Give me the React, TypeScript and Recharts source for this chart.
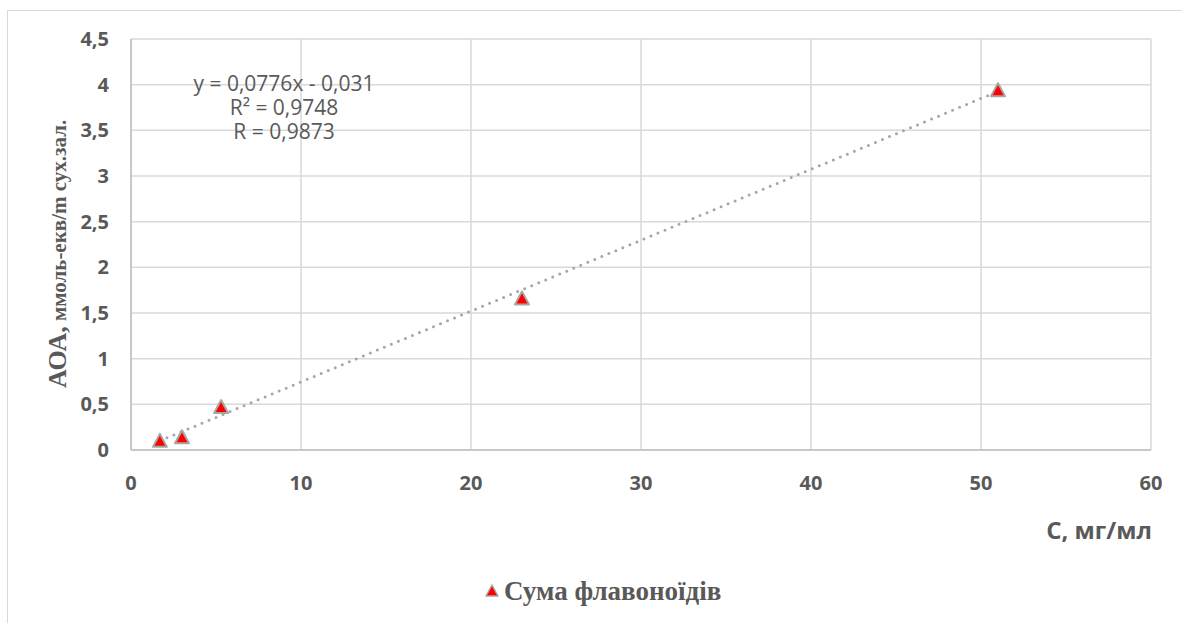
import React from "react";
import { ScatterChart, Scatter, XAxis, YAxis, CartesianGrid } from "recharts";

const concentrations = [1.7, 3.0, 5.3, 23.0, 51.0];
const aoaValues = [0.1, 0.14, 0.47, 1.66, 3.94];
const trendX = [1.7, 51.0];
const trendY = [0.101, 3.927];
const xTicks = [0, 10, 20, 30, 40, 50, 60];
const yTicks = [0, 0.5, 1, 1.5, 2, 2.5, 3, 3.5, 4, 4.5];
const equationLines = ["y = 0,0776x - 0,031", "R² = 0,9748", "R = 0,9873"];
const seriesName = "Сума флавоноїдів";
const xLabel = "С, мг/мл";
const yLabelMain = "АОА,";
const yLabelRest = " ммоль-екв/m сух.зал.";

const points = concentrations.map((x, i) => ({ x, y: aoaValues[i] }));
const trend = trendX.map((x, i) => ({ x, y: trendY[i] }));

const GRAY_TEXT = "#595959";
const fmt = (v: number) => String(v).replace(".", ",");

const Tri = (props: any) => {
  const { cx, cy } = props;
  if (cx == null || cy == null) return null;
  return (
    <path
      d={`M${cx},${cy - 7} L${cx + 7},${cy + 6} L${cx - 7},${cy + 6} Z`}
      fill="#ff0000"
      stroke="#a6a6a6"
      strokeWidth={2}
      strokeLinejoin="round"
    />
  );
};

const tickStyle = {
  fill: GRAY_TEXT,
  fontSize: 20,
  fontWeight: 700,
  fontFamily: "'Open Sans', sans-serif",
};

export default function App() {
  return (
    <div
      style={{
        position: "absolute",
        left: 7,
        top: 10,
        width: 1174,
        height: 612,
        borderTop: "1px solid #d9d9d9",
        borderLeft: "1px solid #d9d9d9",
        background: "#fff",
      }}
    >
      <ScatterChart
        width={1174}
        height={612}
        margin={{ top: 28, right: 31, left: 0, bottom: 143 }}
      >
        <CartesianGrid stroke="#d9d9d9" strokeWidth={1.5} />
        <XAxis
          type="number"
          dataKey="x"
          domain={[0, 60]}
          ticks={xTicks}
          height={30}
          axisLine={{ stroke: "#bfbfbf", strokeWidth: 1.5 }}
          tickLine={false}
          tickSize={0}
          tickMargin={26}
          tick={tickStyle}
          label={() => (
            <text
              x={1144}
              y={528}
              textAnchor="end"
              fill={GRAY_TEXT}
              fontSize={24}
              fontWeight={700}
              fontFamily="'Open Sans', sans-serif"
            >
              {xLabel}
            </text>
          )}
        />
        <YAxis
          type="number"
          dataKey="y"
          domain={[0, 4.5]}
          ticks={yTicks}
          width={123}
          tickFormatter={fmt}
          axisLine={{ stroke: "#bfbfbf", strokeWidth: 1.5 }}
          tickLine={false}
          tickSize={0}
          tickMargin={22}
          tick={tickStyle}
          label={() => (
            <text
              transform="translate(58,377) rotate(-90)"
              textAnchor="start"
              fill={GRAY_TEXT}
              fontWeight={700}
              fontFamily="'Liberation Serif', 'Times New Roman', serif"
            >
              <tspan fontSize={26}>{yLabelMain}</tspan>
              <tspan fontSize={21}>{yLabelRest}</tspan>
            </text>
          )}
        />
        <Scatter
          data={trend}
          isAnimationActive={false}
          shape={() => null}
          line={{
            stroke: "#a6a6a6",
            strokeWidth: 3,
            strokeDasharray: "0 7.6",
            strokeLinecap: "round",
          }}
        />
        <Scatter
          name={seriesName}
          data={points}
          isAnimationActive={false}
          shape={Tri}
        />
      </ScatterChart>

      <div
        style={{
          position: "absolute",
          left: 166,
          top: 60,
          width: 220,
          textAlign: "center",
          color: GRAY_TEXT,
          fontFamily: "'Open Sans', sans-serif",
          fontSize: 21,
          lineHeight: "24px",
        }}
      >
        {equationLines.map((l) => (
          <div key={l}>{l}</div>
        ))}
      </div>

      <div
        style={{
          position: "absolute",
          left: 476,
          top: 565,
          display: "flex",
          alignItems: "center",
          color: GRAY_TEXT,
          fontFamily: "'Liberation Serif', 'Times New Roman', serif",
          fontWeight: 700,
          fontSize: 27,
          lineHeight: "30px",
          whiteSpace: "nowrap",
        }}
      >
        <svg width={16} height={16} style={{ marginRight: 4 }}>
          <path
            d="M8,2 L14,13 L2,13 Z"
            fill="#ff0000"
            stroke="#a6a6a6"
            strokeWidth={1.5}
            strokeLinejoin="round"
          />
        </svg>
        <span>{seriesName}</span>
      </div>
    </div>
  );
}
